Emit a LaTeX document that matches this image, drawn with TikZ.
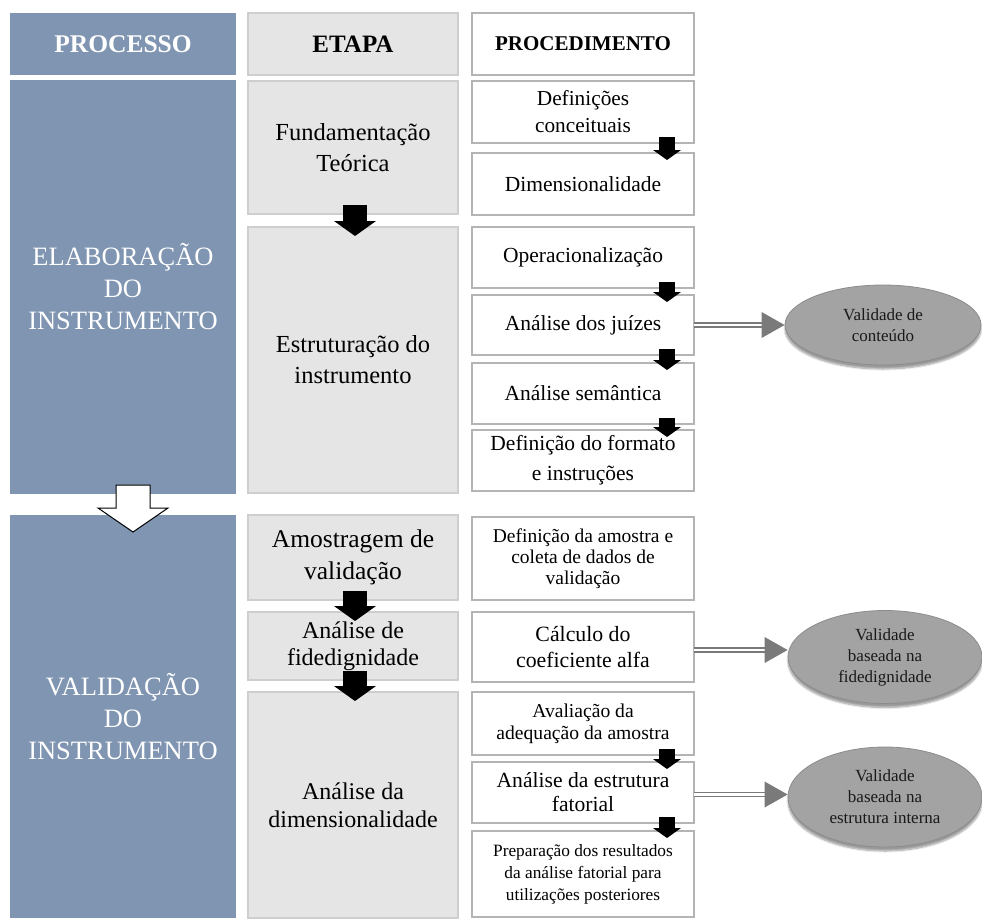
\documentclass[tikz,border=0pt]{standalone}
\usepackage{fontspec}
\setmainfont{Liberation Serif}
\usetikzlibrary{arrows.meta,shapes.geometric,shadows.blur,positioning}
\definecolor{procFill}{RGB}{128,149,177}
\definecolor{etapaFill}{RGB}{229,229,229}
\definecolor{etapaLine}{RGB}{206,206,206}
\definecolor{procLine}{RGB}{180,180,180}
\colorlet{valFill}{black!36}
\colorlet{valLine}{black!45}
\colorlet{setaCinza}{black!52}
\tikzset{
  caixa/.style={anchor=north west,align=center,inner sep=0pt,outer sep=0pt},
  processo/.style={caixa,fill=procFill,text=white,
    font=\fontsize{26.5}{32}\selectfont},
  etapa/.style={caixa,fill=etapaFill,draw=etapaLine,line width=1.5pt,
    font=\fontsize{24.5}{31}\selectfont},
  proced/.style={caixa,fill=white,draw=procLine,line width=1.5pt,
    font=\fontsize{21.5}{26}\selectfont},
  validade/.style={ellipse,fill=valFill,draw=valLine,line width=.8pt,
    text=black!90,align=center,font=\fontsize{17}{21}\selectfont,
    blur shadow={shadow xshift=0pt,shadow yshift=-4pt,shadow blur steps=8}},
  setapreta/.style={line width=16pt,
    -{Triangle[width=28pt,length=10pt,line width=0pt]}},
  setapreta2/.style={line width=24pt,
    -{Triangle[width=42pt,length=15pt,line width=0pt]}},
  setadupla/.style={draw=setaCinza,double=white,double distance=2.5pt,
    line width=1.4pt,
    -{Triangle[width=26pt,length=23pt,line width=0pt,fill=setaCinza,color=setaCinza]}}
}
\begin{document}
\begin{tikzpicture}[x=1pt,y=-1pt]
  \useasboundingbox (0,0) rectangle (982,918);

  % processo
  \node[processo,minimum width=226,minimum height=62,font=\bfseries\fontsize{25.5}{30}\selectfont]
    (hprocesso) at (10,13) {PROCESSO};
  \node[processo,minimum width=226,minimum height=414]
    (elab) at (10,80) {ELABORAÇÃO\\DO\\INSTRUMENTO};
  \node[processo,minimum width=226,minimum height=403]
    (valid) at (10,515) {VALIDAÇÃO\\DO\\INSTRUMENTO};

  % etapa
  \node[etapa,minimum width=210,minimum height=62,font=\bfseries\fontsize{25}{30}\selectfont]
    (hetapa) at (248,13) {ETAPA};
  \node[etapa,minimum width=210,minimum height=133]
    (fund) at (248,81) {Fundamentação\\Teórica};
  \node[etapa,minimum width=210,minimum height=266]
    (estr) at (248,227) {Estruturação do\\instrumento};
  \node[etapa,minimum width=210,minimum height=85,font=\fontsize{25.5}{32}\selectfont]
    (amost) at (248,515) {Amostragem de\\validação};
  \node[etapa,minimum width=210,minimum height=68,font=\fontsize{24}{27}\selectfont]
    (fided) at (248,612) {Análise de\\fidedignidade};
  \node[etapa,minimum width=210,minimum height=226,font=\fontsize{24}{28}\selectfont]
    (dimen) at (248,692) {Análise da\\dimensionalidade};

  % procedimento
  \node[proced,minimum width=222,minimum height=62,font=\bfseries\fontsize{21}{26}\selectfont]
    (hproced) at (472,13) {PROCEDIMENTO};
  \node[proced,minimum width=222,minimum height=62,font=\fontsize{21.3}{27}\selectfont]
    (defc) at (472,81) {Definições\\conceituais};
  \node[proced,minimum width=222,minimum height=62]
    (dimc) at (472,153) {Dimensionalidade};
  \node[proced,minimum width=222,minimum height=61]
    (oper) at (472,227) {Operacionalização};
  \node[proced,minimum width=222,minimum height=60]
    (juiz) at (472,295) {Análise dos juízes};
  \node[proced,minimum width=222,minimum height=61,font=\fontsize{21.5}{30}\selectfont]
    (form) at (472,430) {Definição do formato\\e instruções};
  \node[proced,minimum width=222,minimum height=61]
    (sem) at (472,363) {Análise semântica};
  \node[proced,minimum width=222,minimum height=83,font=\fontsize{19.5}{21}\selectfont]
    (amostra) at (472,517) {Definição da amostra e\\coleta de dados de\\validação};
  \node[proced,minimum width=222,minimum height=70,font=\fontsize{21.8}{26}\selectfont]
    (calc) at (472,612) {Cálculo do\\coeficiente alfa};
  \node[proced,minimum width=222,minimum height=63,font=\fontsize{19.6}{22}\selectfont]
    (aval) at (472,692) {Avaliação da\\adequação da amostra};
  \node[proced,minimum width=222,minimum height=61,font=\fontsize{21.6}{24}\selectfont]
    (estrf) at (472,762) {Análise da estrutura\\fatorial};
  \node[proced,minimum width=222,minimum height=86,font=\fontsize{17.3}{22}\selectfont]
    (prep) at (472,831) {Preparação dos resultados\\da análise fatorial para\\utilizações posteriores};

  % validades
  \node[validade,minimum width=196,minimum height=80] (vconteudo) at (883,325)
    {Validade de\\conteúdo};
  \node[validade,minimum width=194,minimum height=93] (vfided) at (885,657)
    {Validade\\baseada na\\fidedignidade};
  \node[validade,minimum width=194,minimum height=100] (vinterna) at (885,797)
    {Validade\\baseada na\\estrutura interna};

  % setas pretas
  \foreach \a/\b in {fund/estr,amost/fided,fided/dimen}
    \draw[setapreta2] ([xshift=2pt,yshift=9pt]\a.south) -- ([xshift=2pt,yshift=-9pt]\b.north);
  \foreach \a/\b in {defc/dimc,oper/juiz,juiz/sem,sem/form,aval/estrf,estrf/prep}
    \draw[setapreta] ([xshift=-27pt,yshift=6pt]\a.south east) -- ([xshift=-27pt,yshift=-7pt]\b.north east);

  % setas duplas
  \draw[setadupla] (juiz.east) -- (juiz.east -| vconteudo.west);
  \draw[setadupla] ([yshift=-3pt]calc.east) -- ([yshift=-3pt]calc.east -| vfided.west);
  \draw[setadupla] ([yshift=-2pt]estrf.east) -- ([yshift=-2pt]estrf.east -| vinterna.west);

  % seta vazada
  \coordinate (passo) at ([xshift=9pt,yshift=9pt]elab.south);
  \draw[black,line width=1pt,fill=white,line join=miter]
    (passo) ++(-16,0) -- ++(0,23) -- ++(-18,0) -- ++(35,24) -- ++(35,-24)
    -- ++(-18,0) -- ++(0,-23) -- cycle;
\end{tikzpicture}
\end{document}
